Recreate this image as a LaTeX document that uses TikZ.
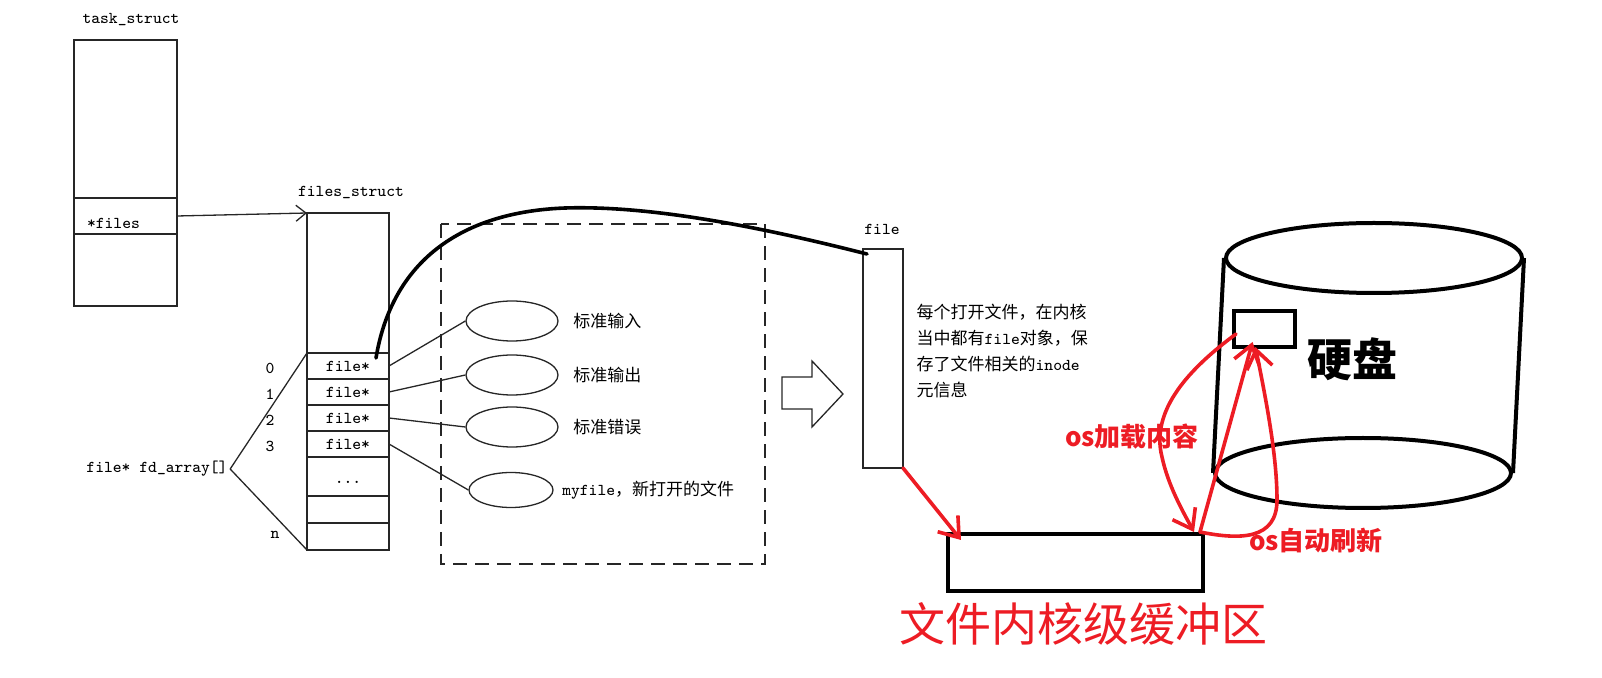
\documentclass[tikz,border=0pt]{standalone}
\usepackage{fontspec}
\newfontfamily\cjk{Noto Sans CJK SC}
\usetikzlibrary{shapes.geometric,arrows.meta,positioning}
\definecolor{inkred}{RGB}{237,28,36}
\newcommand{\codefont}{\ttfamily\fontsize{8.3}{10}\selectfont}
\newcommand{\zhfont}{\cjk\fontsize{8.5}{13}\selectfont}

\begin{document}
\begin{tikzpicture}[x=0.5pt, y=-0.5pt, line width=0.65pt, draw=black!85,
    cell/.style={draw, inner sep=0pt, outer sep=0pt, font=\codefont},
    tcell/.style={cell, minimum width=51.5pt},
    frow/.style={cell, minimum width=41pt, minimum height=13pt},
    lbl/.style={font=\codefont, inner sep=1pt},
    zhlbl/.style={font=\zhfont, inner sep=1pt},
    blob/.style={draw, ellipse, inner sep=0pt, minimum width=46pt, minimum height=20pt},
    heavy/.style={draw=black, line width=2pt},
    redtxt/.style={font=\cjk\bfseries\fontsize{13}{15}\selectfont, text=inkred, inner sep=0pt},
    redarr/.style={draw=inkred, line width=1.8pt, line cap=round,
        -{Straight Barb[length=9pt,width=13pt]}}]
\useasboundingbox (0,0) rectangle (1602,678);

% task_struct
\node[tcell, minimum height=79pt] (ttop) at (125.5,119) {};
\node[tcell, minimum height=18pt, text width=38.5pt, inner xsep=6.5pt, align=left,
    text height=12.5pt] (tfiles) at (125.5,216) {*files};
\node[tcell, minimum height=36pt] (tbot) at (125.5,270) {};
\node[lbl] (tname) at (131,20) {task\_struct};

% files_struct
\node[frow, minimum height=70pt] (ftop) at (348,283) {};
\node[frow, below=0pt of ftop] (f0) {file*};
\node[frow, below=0pt of f0] (f1) {file*};
\node[frow, below=0pt of f1] (f2) {file*};
\node[frow, below=0pt of f2] (f3) {file*};
\node[frow, minimum height=19.5pt, text height=7pt, below=0pt of f3] (f4) {...};
\node[frow, minimum height=13.5pt, below=0pt of f4] (f5) {};
\node[frow, minimum height=13.5pt, below=0pt of f5] (f6) {};
\node[lbl] (fsname) at (351,192) {files\_struct};
\draw[-{Straight Barb[length=5pt,width=8pt]}] (tfiles.east) -- (ftop.north west);

\node[lbl, left=15pt of f0, yshift=-1pt] (i0) {0};
\node[lbl, left=15pt of f1, yshift=-1pt] (i1) {1};
\node[lbl, left=15pt of f2, yshift=-1pt] (i2) {2};
\node[lbl, left=15pt of f3, yshift=-1pt] (i3) {3};
\node[lbl, left=12.5pt of f6, yshift=1pt] (in) {n};

\node[lbl] (fdarr) at (157,469) {file* fd\_array[]};
\draw (fdarr.east) -- (f0.north west);
\draw (fdarr.east) -- (f6.south west);

% open files
\draw[dash pattern=on 7pt off 4pt] (441,224) rectangle (765,564);
\node[blob] (e0) at (512,321) {};
\node[blob] (e1) at (512,375) {};
\node[blob] (e2) at (512,427) {};
\node[blob, minimum width=42pt, minimum height=17.5pt] (e3) at (511,490) {};
\node[zhlbl, right=6pt of e0] (l0) {标准输入};
\node[zhlbl, right=6pt of e1] (l1) {标准输出};
\node[zhlbl, right=6pt of e2] (l2) {标准错误};
\node[zhlbl, right=3pt of e3] (l3) {{\codefont myfile}，新打开的文件};
\draw (f0.east) -- (e0.west);
\draw (f1.east) -- (e1.west);
\draw (f2.east) -- (e2.west);
\draw (f3.east) -- (e3.west);

% hollow arrow
\draw (782,377) -- (812,377) -- (812,361) -- (843,394) -- (812,427) -- (812,409)
    -- (782,409) -- cycle;

% file object
\node[cell, minimum width=20pt, minimum height=109.5pt] (fobj) at (883,358.5) {};
\node[lbl] (fname) at (882,229) {file};
\node[zhlbl, anchor=west, align=left] (finfo) at (914,351)
    {每个打开文件，在内核\\当中都有{\codefont file}对象，保\\存了文件相关的{\codefont inode}\\元信息};
\draw[draw=black, line width=1.8pt, line cap=round]
    ([xshift=-6.5pt,yshift=-2.5pt]f0.north east) .. controls (392,262) and (460,212) .. (565,208)
    .. controls (660,205) and (780,232) .. ([xshift=2pt,yshift=-2.5pt]fobj.north west);

% buffer
\node[heavy, minimum width=127.5pt, minimum height=28.5pt, inner sep=0pt] (buf) at (1075.5,562.5) {};
\node[font=\cjk\fontsize{23}{26}\selectfont, text=inkred, inner sep=1pt] (bufname)
    at (1083,624) {文件内核级缓冲区};

% disk
\node[heavy, ellipse, minimum width=148pt, minimum height=35pt, inner sep=0pt] (dtop) at (1374,258) {};
\node[heavy, ellipse, minimum width=148pt, minimum height=35pt, inner sep=0pt] (dbot) at (1363,473) {};
\draw[heavy] (dtop.west) -- (dbot.west);
\draw[heavy] (dtop.east) -- (dbot.east);
\node[heavy, minimum width=30.5pt, minimum height=18pt, inner sep=0pt] (sect) at (1264.5,329) {};
\node[font=\cjk\bfseries\fontsize{22.5}{24}\selectfont, inner sep=0pt] (diskname) at (1352,359) {硬盘};

% red arrows
\draw[redarr] (fobj.south east) -- ([xshift=7.5pt,yshift=-4pt]buf.north west);
\draw[redarr] ([xshift=2pt,yshift=-2.5pt]sect.west) .. controls (1190,368) and (1150,410) .. (1162,457)
    .. controls (1168,485) and (1182,510) .. ([xshift=-5.5pt]buf.north east);
\draw[redarr] ([xshift=-2.5pt]buf.north east) -- ([xshift=-6pt,yshift=3.5pt]sect.south);
\draw[redarr] ([xshift=-2.5pt]buf.north east) .. controls (1240,540) and (1277,540) .. (1277,500)
    .. controls (1277,455) and (1266,400) .. ([xshift=-4.5pt,yshift=1pt]sect.south);
\node[redtxt] (loadlbl) at (1132,437) {os加载内容};
\node[redtxt] (flushlbl) at (1316,541) {os自动刷新};
\end{tikzpicture}
\end{document}
